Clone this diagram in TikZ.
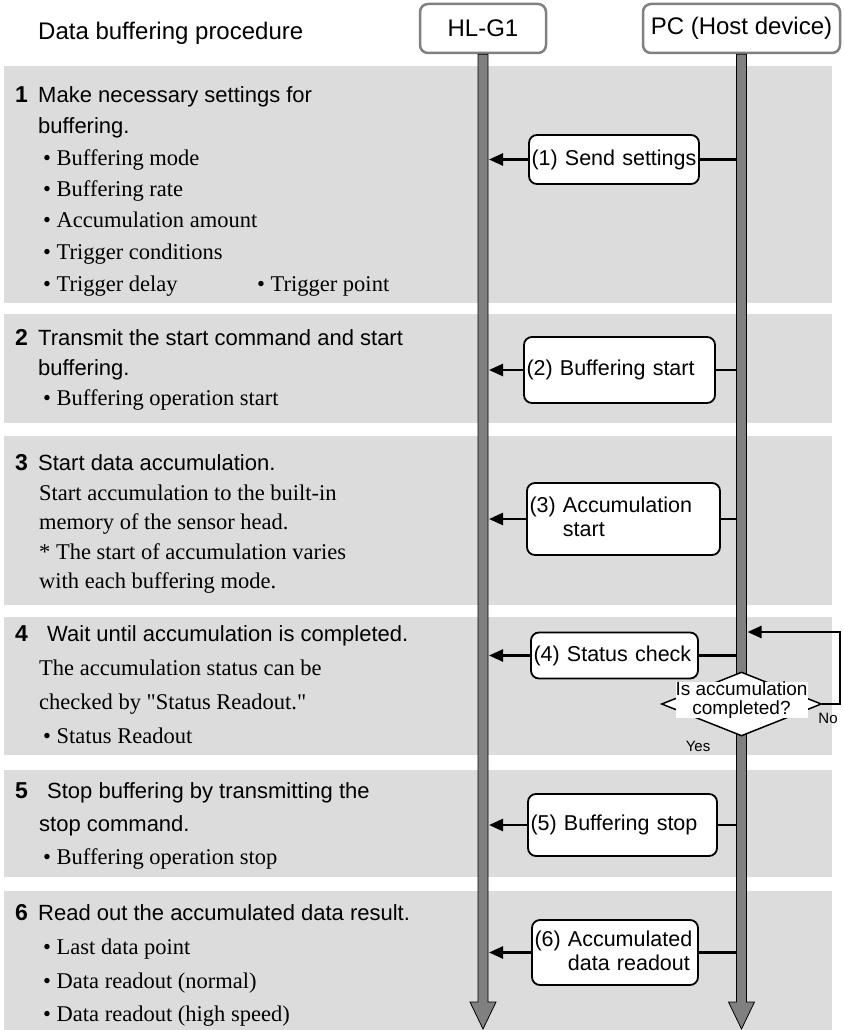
\documentclass[tikz,border=0pt]{standalone}
\usepackage{fontspec}
\setmainfont{Liberation Serif}
\setsansfont{Liberation Sans}
\usepackage{tikz}
\usetikzlibrary{arrows.meta,calc,shapes.geometric}
\definecolor{panelgray}{RGB}{220,220,220}
\definecolor{lifegray}{RGB}{128,128,128}
\newcommand{\sfsize}[1]{\sffamily\fontsize{#1}{#1}\selectfont}

\begin{document}
\begin{tikzpicture}[x=1pt, y=-1pt, >={Triangle[length=14pt,width=12pt]},
    panel/.style={fill=panelgray},
    headbox/.style={draw=lifegray, line width=2.5pt, rounded corners=8pt, fill=white,
      font=\sfsize{24}, inner sep=0pt, minimum height=49pt},
    msgbox/.style={draw, line width=1.8pt, rounded corners=8pt, fill=white, align=left,
      font=\sffamily\fontsize{21.5}{24}\selectfont, inner xsep=2.5pt, inner ysep=0pt},
    lifebar/.style={fill=lifegray, draw=black, line width=0.8pt},
    msgline/.style={line width=2.5pt},
    decision/.style={diamond, draw, fill=white, line width=1.5pt, inner sep=0pt,
      minimum width=160pt, minimum height=64pt},
    steptitle/.style={anchor=base west, font=\sfsize{22}, inner sep=0pt},
    stepnum/.style={anchor=base west, font=\sfsize{23}\bfseries, inner sep=0pt},
    bodytext/.style={anchor=base west, font=\fontsize{22.5}{22.5}\selectfont, inner sep=0pt}]
  \useasboundingbox (0,0) rectangle (843,1030);
  \foreach \t/\b in {66/303,314/423,436/605,617/755,770/877,891/1030}
    \fill[panel] (4,\t) rectangle (832,\b);

  \node[steptitle, font=\sfsize{24}] (title) at (38,40) {Data buffering procedure};
  \node[headbox, minimum width=126pt] (hl) at (483,28.5) {HL-G1};
  \node[headbox, minimum width=197pt] (pc) at (741.5,28.5) {PC (Host device)};

  % steps
  \foreach \n/\y in {1/103,2/345,3/470,4/641,5/798,6/920}
    \node[stepnum] (n\n) at (15,\y) {\n};
  \node[steptitle] (t1a) at (38,103) {Make necessary settings for};
  \node[steptitle] (t1b) at (38,134) {buffering.};
  \foreach \y/\txt in {165/Buffering mode,196/Buffering rate,227/Accumulation amount,259/Trigger conditions,291/Trigger delay}
    \node[bodytext] (b\y) at (43,\y) {\textbullet\ \txt};
  \node[bodytext] (b291r) at (257,291) {\textbullet\ Trigger point};

  \node[steptitle] (t2a) at (38,345) {Transmit the start command and start};
  \node[steptitle] (t2b) at (38,375) {buffering.};
  \node[bodytext] (b405) at (43,405) {\textbullet\ Buffering operation start};

  \node[steptitle] (t3a) at (38,470) {Start data accumulation.};
  \node[bodytext] (b500) at (39,500) {Start accumulation to the built-in};
  \node[bodytext] (b529) at (39,529) {memory of the sensor head.};
  \node[bodytext] (b559) at (39,559) {* The start of accumulation varies};
  \node[bodytext] (b588) at (39,588) {with each buffering mode.};

  \node[steptitle] (t4a) at (47,641) {Wait until accumulation is completed.};
  \node[bodytext] (b675) at (39,675) {The accumulation status can be};
  \node[bodytext] (b709) at (39,709) {checked by \textquotedbl Status Readout.\textquotedbl};
  \node[bodytext] (b743) at (43,743) {\textbullet\ Status Readout};

  \node[steptitle] (t5a) at (47,798) {Stop buffering by transmitting the};
  \node[steptitle] (t5b) at (39,831) {stop command.};
  \node[bodytext] (b864) at (43,864) {\textbullet\ Buffering operation stop};

  \node[steptitle] (t6a) at (38,920) {Read out the accumulated data result.};
  \node[bodytext] (b954) at (43,954) {\textbullet\ Last data point};
  \node[bodytext] (b988) at (43,988) {\textbullet\ Data readout (normal)};
  \node[bodytext] (b1021) at (43,1021) {\textbullet\ Data readout (high speed)};

  % messages
  \node[msgbox, text width=165pt, minimum height=49pt] (m1) at (614,159.5) {(1) Send settings};
  \node[msgbox, text width=186pt, minimum height=66pt] (m2) at (619.5,370) {(2) Buffering start};
  \node[msgbox, text width=188pt, minimum height=72pt] (m3) at (623.5,519) {(3) Accumulation\\\phantom{(3)~}start};
  \node[msgbox, text width=162pt, minimum height=46pt] (m4) at (614.5,655.5) {(4) Status check};
  \node[msgbox, text width=184pt, minimum height=62pt] (m5) at (622.5,825) {(5) Buffering stop};
  \node[msgbox, text width=161pt, minimum height=65pt] (m6) at (615,952.5) {(6) Accumulated\\\phantom{(6)~}data readout};
  \foreach \m in {m1,m2,m3,m4,m5,m6}{
    \draw[msgline] (\m.east -| pc.south) -- (\m.east);
    \draw[msgline,->] (\m.west) -- ($(\m.west -| hl.south)+(6,0)$);
  }

  % lifelines
  \coordinate (arrowtop) at (0,1002);
  \coordinate (arrowtip) at (0,1029);
  \foreach \n in {hl,pc}
    \filldraw[lifebar] ($(\n.south)+(-5,0)$) -- ($(\n.south|-arrowtop)+(-5,0)$)
      -- ($(\n.south|-arrowtop)+(-13,0)$) -- (\n.south|-arrowtip)
      -- ($(\n.south|-arrowtop)+(13,0)$) -- ($(\n.south|-arrowtop)+(5,0)$)
      -- ($(\n.south)+(5,0)$) -- cycle;

  % check loop
  \node[decision] (dia) at (741.5,704) {};
  \node[align=center, fill=white, font=\sffamily\fontsize{19}{19}\selectfont, inner sep=0pt] (ask) at (741.5,700) {Is accumulation\\completed?};
  \node[font=\sfsize{15}, inner sep=0pt] (yes) at (698,746) {Yes};
  \node[font=\sfsize{15}, inner sep=0pt] (no) at (828,718) {No};
  \coordinate (looptop) at (840,632);
  \draw[msgline,->] (dia.east) -| (looptop) -- ($(looptop -| pc.south)+(6,0)$);
\end{tikzpicture}
\end{document}
